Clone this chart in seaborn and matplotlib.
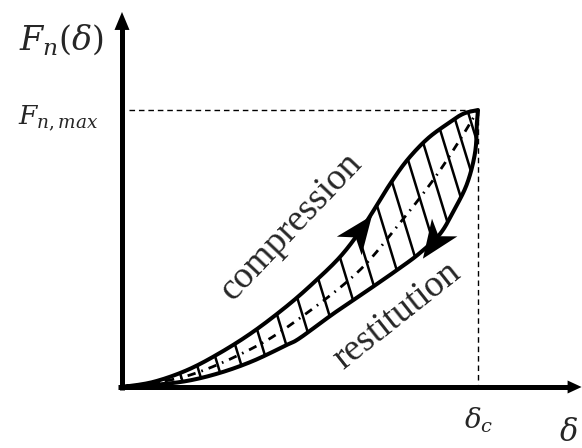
import numpy as np
import pandas as pd
import seaborn as sns
import matplotlib
matplotlib.use("Agg")
import matplotlib.pyplot as plt
from matplotlib.patches import Polygon

# Normalised displacement (delta / delta_c) and force (F / F_max)
comp_delta = [0.0, 0.087, 0.183, 0.275, 0.368, 0.463, 0.537, 0.612, 0.669,
              0.711, 0.753, 0.801, 0.857, 0.913, 0.958, 1.0]
comp_force = [0.0, 0.018, 0.061, 0.123, 0.199, 0.292, 0.375, 0.469, 0.563,
              0.646, 0.733, 0.819, 0.895, 0.949, 0.986, 1.0]

rest_delta = [0.0, 0.087, 0.183, 0.275, 0.368, 0.463, 0.5, 0.593, 0.688,
              0.781, 0.837, 0.893, 0.930, 0.969, 0.992, 0.997, 1.0]
rest_force = [0.0, 0.007, 0.022, 0.051, 0.094, 0.152, 0.177, 0.264, 0.347,
              0.430, 0.484, 0.552, 0.632, 0.733, 0.848, 0.957, 1.0]

mid_delta = [0.0, 0.183, 0.368, 0.5, 0.66, 0.772, 0.874, 0.949, 1.0]
mid_force = [0.0, 0.040, 0.141, 0.249, 0.412, 0.578, 0.747, 0.892, 1.0]

# positions of the hatch strokes along the compression branch
hatch_at = [0.121, 0.163, 0.211, 0.261, 0.317, 0.379, 0.435, 0.492, 0.551,
            0.612, 0.663, 0.716, 0.758, 0.803, 0.846, 0.893, 0.935, 0.972]
hatch_angle = 73.0

comp_arrow_at = 0.645
rest_arrow_at = 0.90

delta_c = 1.0
f_max = 1.0

label_y = r"$F_n(\delta)$"
label_fmax = r"$F_{n,max}$"
label_dc = r"$\delta_c$"
label_x = r"$\delta$"
text_comp = "compression"
text_rest = "restitution"

sns.set_style("white")
plt.rcParams["mathtext.fontset"] = "dejavuserif"
plt.rcParams["font.family"] = "serif"
plt.rcParams["font.serif"] = ["Liberation Serif"]

fig = plt.figure(figsize=(5.82, 4.48), dpi=100)
ax = fig.add_axes([0, 0, 1, 1])
ax.set_xlim(-122 / 356, 460 / 356)
ax.set_ylim(-61 / 277, 387 / 277)
ax.axis("off")


def smooth(u, v, n=24):
    P = np.column_stack([u, v]).astype(float)
    P = np.vstack([P[0], P, P[-1]])
    out = []
    t = np.linspace(0, 1, n, endpoint=False)[:, None]
    for i in range(1, len(P) - 2):
        p0, p1, p2, p3 = P[i - 1], P[i], P[i + 1], P[i + 2]
        out.append(0.5 * (2 * p1 + (-p0 + p2) * t
                          + (2 * p0 - 5 * p1 + 4 * p2 - p3) * t ** 2
                          + (-p0 + 3 * p1 - 3 * p2 + p3) * t ** 3))
    out.append(P[-2][None])
    return np.vstack(out)


upper = smooth(comp_delta, comp_force)
lower = smooth(rest_delta, rest_force)
middle = smooth(mid_delta, mid_force)

to_px = ax.transData.transform
to_data = ax.transData.inverted().transform


def arrowhead(tip_px, direction, length, width, notch):
    d = np.asarray(direction, float)
    d = d / np.hypot(*d)
    nrm = np.array([-d[1], d[0]])
    pts = [tip_px,
           tip_px - d * length + nrm * width / 2,
           tip_px - d * length * notch,
           tip_px - d * length - nrm * width / 2]
    ax.add_patch(Polygon(to_data(np.array(pts)), closed=True,
                         fc="black", ec="none", zorder=6))


def point_on(curve, u):
    px = to_px(curve)
    i = int(np.clip(np.searchsorted(curve[:, 0], u), 1, len(curve) - 2))
    x = np.interp(u, curve[:, 0], px[:, 0])
    y = np.interp(u, curve[:, 0], px[:, 1])
    tangent = px[i + 1] - px[i - 1]
    return np.array([x, y]), tangent


# dashed guides to the peak force
ax.plot([0.02, delta_c], [f_max, f_max], color="black", lw=1.0,
        linestyle=(0, (4, 2.8)), zorder=2)
ax.plot([delta_c, delta_c], [f_max, 0.01], color="black", lw=1.0,
        linestyle=(0, (4, 2.8)), zorder=2)

# hatch strokes across the hysteresis loop
lower_px = to_px(lower)
th = np.deg2rad(hatch_angle)
hd = np.array([np.cos(th), -np.sin(th)])
for hu in hatch_at:
    P, _ = point_on(upper, hu)
    rel = lower_px - P
    cross = rel[:, 0] * hd[1] - rel[:, 1] * hd[0]
    proj = rel @ hd
    end = None
    for j in range(len(cross) - 1):
        if cross[j] == 0 or cross[j] * cross[j + 1] < 0:
            if proj[j] > 0:
                f = cross[j] / (cross[j] - cross[j + 1])
                end = lower_px[j] + f * (lower_px[j + 1] - lower_px[j])
                break
    if end is None:
        continue
    seg = to_data(np.array([P, end]))
    ax.plot(seg[:, 0], seg[:, 1], color="black", lw=1.8,
            solid_capstyle="butt", zorder=3)

# dash-dot backbone curve
mid_df = pd.DataFrame({"delta": middle[:, 0], "force": middle[:, 1]})
sns.lineplot(data=mid_df, x="delta", y="force", sort=False, estimator=None,
             color="black", lw=2.0, linestyle=(0, (3, 2.2, 0.6, 2.2)),
             ax=ax, zorder=4)

# closed loop: compression branch up, restitution branch down
loop = np.vstack([upper, lower[::-1]])
loop_df = pd.DataFrame({"delta": loop[:, 0], "force": loop[:, 1]})
sns.lineplot(data=loop_df, x="delta", y="force", sort=False, estimator=None,
             color="black", lw=2.9, solid_joinstyle="round",
             solid_capstyle="round", ax=ax, zorder=5)

# direction arrows on the two branches
base, tan = point_on(upper, comp_arrow_at)
d = tan / np.hypot(*tan)
arrowhead(base + d * 34, d, 38, 31, 0.72)
base, tan = point_on(lower, rest_arrow_at)
d = -tan / np.hypot(*tan)
arrowhead(base + d * 34, d, 38, 31, 0.72)

# coordinate axes with arrowheads
ax.plot([0, 0], [-0.011, 1.30], color="black", lw=3.6,
        solid_capstyle="butt", zorder=6)
ax.plot([-0.012, 1.255], [0, 0], color="black", lw=3.6,
        solid_capstyle="butt", zorder=6)
arrowhead(to_px([0, 1.354]), (0, 1), 18, 15, 1.0)
arrowhead(to_px([1.291, 0]), (1, 0), 14, 13, 1.0)

# branch labels
ax.text(0.494, 0.556, text_comp, rotation=46.5, rotation_mode="anchor",
        ha="center", va="baseline", fontsize=27, family="Liberation Serif",
        zorder=7)
ax.text(0.789, 0.231, text_rest, rotation=38.4, rotation_mode="anchor",
        ha="center", va="baseline", fontsize=27, family="Liberation Serif",
        zorder=7)

# axis labels
ax.text(-0.171, 1.253, label_y, ha="center", va="center", fontsize=24)
ax.text(-0.180, 0.971, label_fmax, ha="center", va="center", fontsize=19)
ax.text(1.003, -0.119, label_dc, ha="center", va="center", fontsize=20)
ax.text(1.253, -0.168, label_x, ha="center", va="center", fontsize=22)

fig.savefig("out.png", dpi=100)
